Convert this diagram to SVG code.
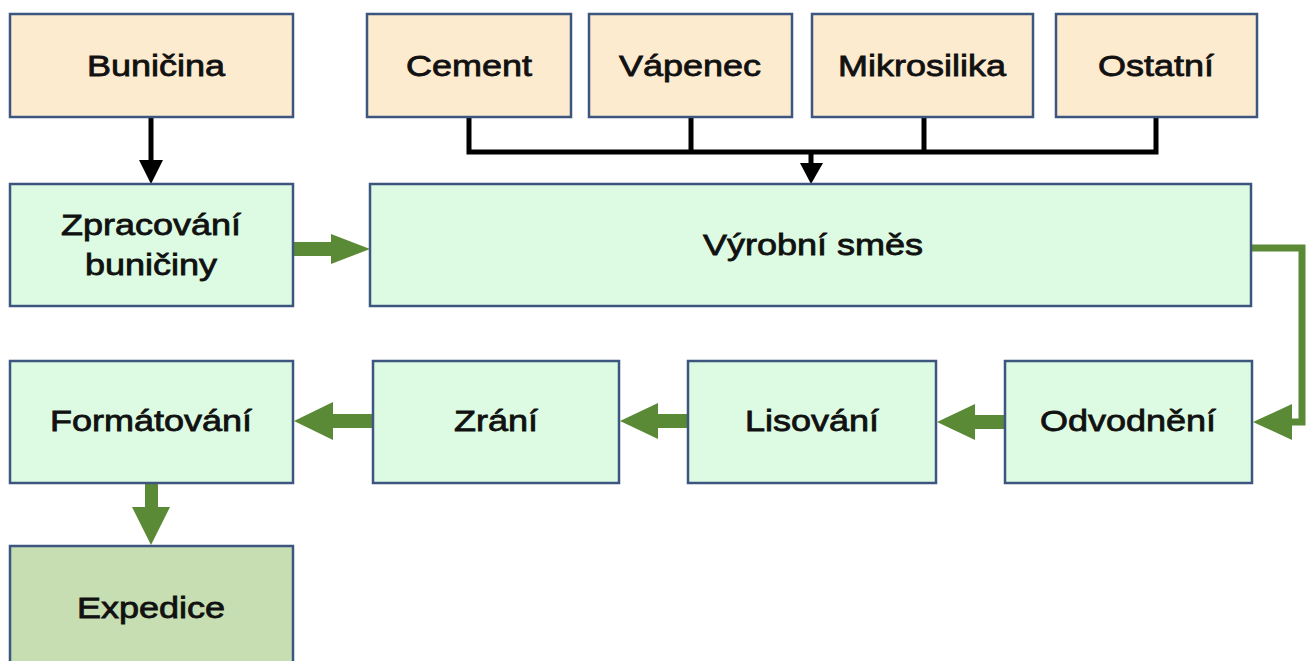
<svg xmlns="http://www.w3.org/2000/svg" width="1307" height="661" viewBox="0 0 1307 661">
<style>
.box{stroke:#3d5680;stroke-width:2.5}
.src{fill:#fdebd0}
.proc{fill:#ddfbe2}
.fin{fill:#c6deb2}
.t{font-family:"Liberation Sans",Arial,sans-serif;font-size:30px;fill:#111;stroke:#111;stroke-width:0.8;text-anchor:middle}
.blk{stroke:#000;stroke-width:5;fill:none}
.grn{fill:#5b8a36}
</style>
<rect width="1307" height="661" fill="#fff"/>
<g id="connectors">
  <line class="blk" x1="151" y1="117" x2="151" y2="162"/>
  <polygon points="139,160 163,160 151,184" fill="#000"/>
  <path class="blk" d="M469,117 V152 M691,117 V152 M924,117 V152 M1156,117 V152 M466.5,152 H1158.5 M811,152 V165"/>
  <polygon points="800,163 823,163 811,184" fill="#000"/>
  <rect class="grn" x="293" y="242" width="40" height="14"/>
  <polygon class="grn" points="331,234 370,249 331,264"/>
  <path d="M1251,248 H1302 V422 H1290" fill="none" stroke="#5b8a36" stroke-width="7"/>
  <polygon class="grn" points="1292,404 1253,422 1292,440"/>
  <rect class="grn" x="973" y="415" width="33" height="14"/>
  <polygon class="grn" points="975,404 937,422 975,440"/>
  <rect class="grn" x="656" y="414" width="33" height="14"/>
  <polygon class="grn" points="658,403 620,421 658,439"/>
  <rect class="grn" x="331" y="414" width="43" height="14"/>
  <polygon class="grn" points="333,402 294,421 333,440"/>
  <rect class="grn" x="145" y="483" width="13" height="26"/>
  <polygon class="grn" points="132,507 170,507 151,545"/>
</g>
<g id="bunicina"><rect class="box src" x="10" y="14" width="283" height="103"/><text class="t" transform="translate(156,76) scale(1.2,1)">Buničina</text></g>
<g id="cement"><rect class="box src" x="367" y="14" width="204" height="103"/><text class="t" transform="translate(469,76) scale(1.2,1)">Cement</text></g>
<g id="vapenec"><rect class="box src" x="589" y="14" width="203" height="103"/><text class="t" transform="translate(690,76) scale(1.2,1)">Vápenec</text></g>
<g id="mikrosilika"><rect class="box src" x="812" y="14" width="221" height="103"/><text class="t" transform="translate(922,76) scale(1.2,1)">Mikrosilika</text></g>
<g id="ostatni"><rect class="box src" x="1056" y="14" width="201" height="103"/><text class="t" transform="translate(1156,76) scale(1.2,1)">Ostatní</text></g>
<g id="zpracovani"><rect class="box proc" x="10" y="184" width="283" height="122"/><text class="t" transform="translate(151,235) scale(1.2,1)">Zpracování</text><text class="t" transform="translate(151,275) scale(1.2,1)">buničiny</text></g>
<g id="vyrobni-smes"><rect class="box proc" x="370" y="184" width="881" height="122"/><text class="t" transform="translate(813,255) scale(1.2,1)">Výrobní směs</text></g>
<g id="formatovani"><rect class="box proc" x="10" y="361" width="283" height="122"/><text class="t" transform="translate(151,431) scale(1.2,1)">Formátování</text></g>
<g id="zrani"><rect class="box proc" x="373" y="361" width="246" height="122"/><text class="t" transform="translate(496,431) scale(1.2,1)">Zrání</text></g>
<g id="lisovani"><rect class="box proc" x="688" y="361" width="248" height="122"/><text class="t" transform="translate(812,431) scale(1.2,1)">Lisování</text></g>
<g id="odvodneni"><rect class="box proc" x="1005" y="361" width="247" height="122"/><text class="t" transform="translate(1128,431) scale(1.2,1)">Odvodnění</text></g>
<g id="expedice"><rect class="box fin" x="10" y="546" width="283" height="130"/><text class="t" transform="translate(151,618) scale(1.2,1)">Expedice</text></g>
</svg>
